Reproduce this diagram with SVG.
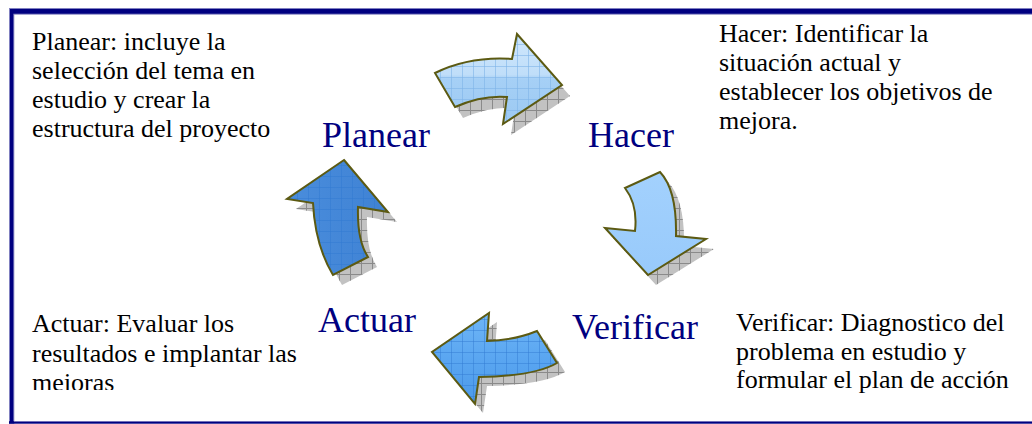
<svg xmlns="http://www.w3.org/2000/svg" width="1032" height="424" viewBox="0 0 1032 424">
  <style>
    .desc { font-family: "Liberation Serif", "Times New Roman", serif; font-size: 26px; fill: #000000; }
    .stage { font-family: "Liberation Serif", "Times New Roman", serif; font-size: 36px; fill: #000080; }
    .arrow { stroke: #5c5a12; stroke-width: 2; stroke-linejoin: miter; }
    .shadow { fill: #c2c2c2; }
    .shgrid { fill: url(#gridGrey); }
  </style>
  <defs>
    <pattern id="gridGrey" patternUnits="userSpaceOnUse" width="11" height="11">
      <path d="M0,0.5 H11 M0.5,0 V11" stroke="#8a8a8a" stroke-width="1" fill="none"/>
    </pattern>
    <pattern id="gridBlue" patternUnits="userSpaceOnUse" width="11" height="11">
      <path d="M0,0.5 H11 M0.5,0 V11" stroke="#2f78d0" stroke-opacity="0.45" stroke-width="1" fill="none"/>
    </pattern>
    <pattern id="gridLight" patternUnits="userSpaceOnUse" width="11" height="11">
      <path d="M0,0.5 H11 M0.5,0 V11" stroke="#7fb4e8" stroke-opacity="0.6" stroke-width="1" fill="none"/>
    </pattern>
    <linearGradient id="g1" x1="0" y1="0" x2="0" y2="1">
      <stop offset="0" stop-color="#cfe7fc"/>
      <stop offset="0.45" stop-color="#c0def9"/>
      <stop offset="0.5" stop-color="#a6d0f6"/>
      <stop offset="1" stop-color="#9cc9f2"/>
    </linearGradient>
    <linearGradient id="g2" x1="0" y1="0" x2="0" y2="1">
      <stop offset="0" stop-color="#a3d1fd"/>
      <stop offset="1" stop-color="#98cafb"/>
    </linearGradient>
    <linearGradient id="g3" x1="0" y1="0" x2="0" y2="1">
      <stop offset="0" stop-color="#6fb6f6"/>
      <stop offset="0.5" stop-color="#5aa6f1"/>
      <stop offset="1" stop-color="#4c9ae9"/>
    </linearGradient>
    <linearGradient id="g4" x1="0" y1="0" x2="1" y2="0">
      <stop offset="0" stop-color="#4a8ddc"/>
      <stop offset="1" stop-color="#3f82d4"/>
    </linearGradient>
    <clipPath id="clipActuar"><rect x="20" y="300" width="300" height="90"/></clipPath>
    <clipPath id="clipVerif"><rect x="720" y="300" width="312" height="93"/></clipPath>
  </defs>

  <rect x="0" y="0" width="1032" height="424" fill="#ffffff"/>

  <!-- frame -->
  <g id="frame">
    <rect x="9" y="8" width="1023" height="6.7" fill="#8080c0"/>
    <rect x="9" y="8" width="5.3" height="416" fill="#8080c0"/>
    <rect x="10" y="9" width="1022" height="4.7" fill="#000080"/>
    <rect x="10" y="9" width="3.3" height="414" fill="#000080"/>
    <rect x="9" y="421.2" width="1023" height="2.5" fill="#000080"/>
    <rect x="14" y="421" width="1018" height="0.8" fill="#8080c0"/>
  </g>

  <!-- connectors: the four cycle arrows -->
  <g id="connectors">
    <g id="arrow-planear-hacer">
      <path class="shadow" transform="translate(8,11)" d="M435,73 Q470,56 512,59 L517,34 L562,85 L503,124 L507,97 Q482,95 455,107 Z"/>
      <path class="shgrid" transform="translate(8,11)" d="M435,73 Q470,56 512,59 L517,34 L562,85 L503,124 L507,97 Q482,95 455,107 Z"/>
      <path fill="url(#g1)" d="M435,73 Q470,56 512,59 L517,34 L562,85 L503,124 L507,97 Q482,95 455,107 Z"/>
      <path fill="url(#gridLight)" d="M435,73 Q470,56 512,59 L517,34 L562,85 L503,124 L507,97 Q482,95 455,107 Z"/>
      <path class="arrow" fill="none" d="M435,73 Q470,56 512,59 L517,34 L562,85 L503,124 L507,97 Q482,95 455,107 Z"/>
    </g>
    <g id="arrow-hacer-verificar">
      <path class="shadow" transform="translate(8,10)" d="M625,188 L660,172 Q677,190 676,236 L706,239 L648,275 L605,228 L635,231 Q638,205 625,188 Z"/>
      <path class="shgrid" transform="translate(8,10)" d="M625,188 L660,172 Q677,190 676,236 L706,239 L648,275 L605,228 L635,231 Q638,205 625,188 Z"/>
      <path class="arrow" fill="url(#g2)" d="M625,188 L660,172 Q677,190 676,236 L706,239 L648,275 L605,228 L635,231 Q638,205 625,188 Z"/>
    </g>
    <g id="arrow-verificar-actuar">
      <path class="shadow" transform="translate(8,9)" d="M537,331 L557,363 Q535,376 479,377 L475,404 L432,352 L489,313 L487,341 Q515,340 537,331 Z"/>
      <path class="shgrid" transform="translate(8,9)" d="M537,331 L557,363 Q535,376 479,377 L475,404 L432,352 L489,313 L487,341 Q515,340 537,331 Z"/>
      <path fill="url(#g3)" d="M537,331 L557,363 Q535,376 479,377 L475,404 L432,352 L489,313 L487,341 Q515,340 537,331 Z"/>
      <path fill="url(#gridBlue)" d="M537,331 L557,363 Q535,376 479,377 L475,404 L432,352 L489,313 L487,341 Q515,340 537,331 Z"/>
      <path class="arrow" fill="none" d="M537,331 L557,363 Q535,376 479,377 L475,404 L432,352 L489,313 L487,341 Q515,340 537,331 Z"/>
    </g>
    <g id="arrow-actuar-planear">
      <path class="shadow" transform="translate(9,10)" d="M344,160 L388,212 L358,207 Q357,240 368,257 L333,275 Q315,245 313,203 L287,199 Z"/>
      <path class="shgrid" transform="translate(9,10)" d="M344,160 L388,212 L358,207 Q357,240 368,257 L333,275 Q315,245 313,203 L287,199 Z"/>
      <path fill="url(#g4)" d="M344,160 L388,212 L358,207 Q357,240 368,257 L333,275 Q315,245 313,203 L287,199 Z"/>
      <path fill="url(#gridBlue)" d="M344,160 L388,212 L358,207 Q357,240 368,257 L333,275 Q315,245 313,203 L287,199 Z"/>
      <path class="arrow" fill="none" d="M344,160 L388,212 L358,207 Q357,240 368,257 L333,275 Q315,245 313,203 L287,199 Z"/>
    </g>
  </g>

  <!-- nodes -->
  <g id="node-planear">
    <text class="stage" x="322" y="147">Planear</text>
    <text class="desc" x="32" y="50">Planear: incluye la</text>
    <text class="desc" x="32" y="79">selección del tema en</text>
    <text class="desc" x="32" y="108">estudio y crear la</text>
    <text class="desc" x="32" y="137">estructura del proyecto</text>
  </g>
  <g id="node-hacer">
    <text class="stage" x="588" y="147">Hacer</text>
    <text class="desc" x="719" y="42">Hacer: Identificar la</text>
    <text class="desc" x="719" y="71">situación actual y</text>
    <text class="desc" x="719" y="100">establecer los objetivos de</text>
    <text class="desc" x="719" y="129">mejora.</text>
  </g>
  <g id="node-verificar">
    <text class="stage" x="572" y="339">Verificar</text>
    <g clip-path="url(#clipVerif)">
      <text class="desc" x="736" y="331">Verificar: Diagnostico del</text>
      <text class="desc" x="736" y="359.5">problema en estudio y</text>
      <text class="desc" x="736" y="388">formular el plan de acción</text>
    </g>
  </g>
  <g id="node-actuar">
    <text class="stage" x="318" y="332">Actuar</text>
    <g clip-path="url(#clipActuar)">
      <text class="desc" x="32" y="332">Actuar: Evaluar los</text>
      <text class="desc" x="32" y="361.5">resultados e implantar las</text>
      <text class="desc" x="32" y="391">mejoras</text>
    </g>
  </g>
</svg>
